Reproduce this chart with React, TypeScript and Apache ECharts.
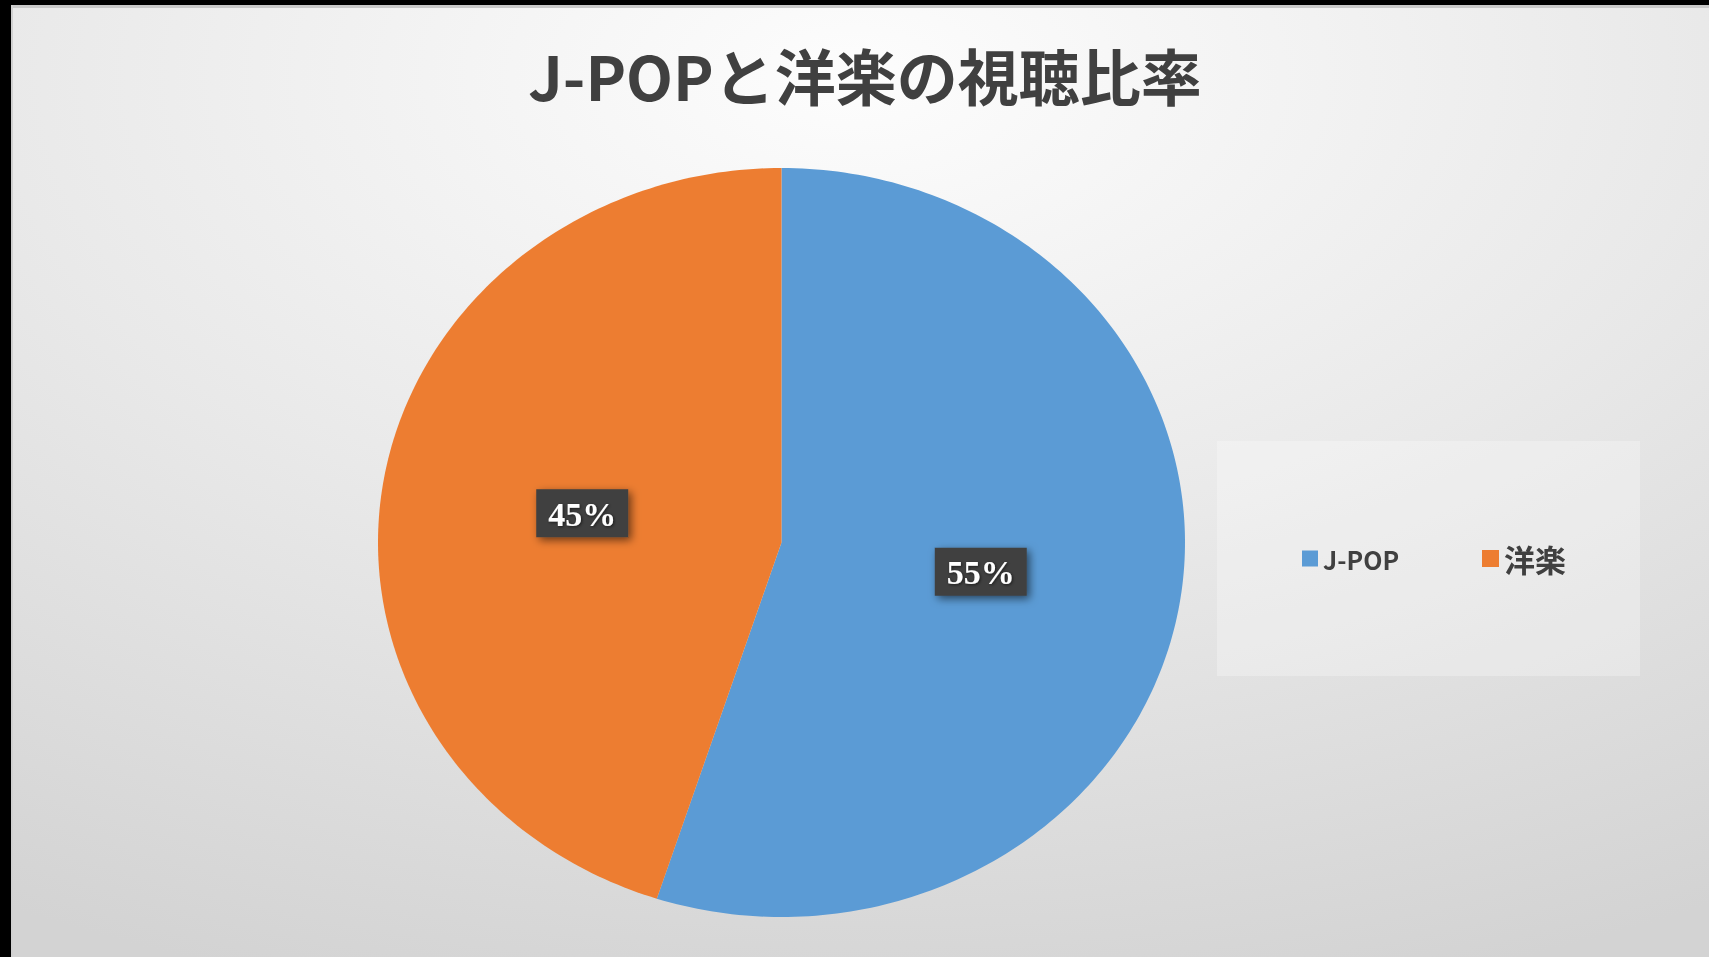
import React, { useEffect, useRef } from "react";
import * as echarts from "echarts";

const titleText = "J-POPと洋楽の視聴比率";
const categories = ["J-POP", "洋楽"];
const values = [55, 45];
const colors = ["#5B9BD5", "#ED7D31"];

// layout (not data)
const W = 1709;
const H = 957;
const CX = 781.5;
const CY = 542.5;
const RX = 403.5;
const RY = 374.5;
const LABEL_R = 0.5;

const total = values.reduce((a, b) => a + b, 0);

function makeRenderItem(idx: number) {
  return (params: any, api: any) => {
    const v = api.value(0);
    let before = 0;
    for (let k = 0; k < idx; k++) before += values[k];
    const a0 = (before / total) * Math.PI * 2;
    const a1 = ((before + v) / total) * Math.PI * 2;
    const steps = Math.max(8, Math.ceil(((a1 - a0) / (Math.PI * 2)) * 360));
    const pts: number[][] = [[CX, CY]];
    for (let s = 0; s <= steps; s++) {
      const t = a0 + ((a1 - a0) * s) / steps;
      pts.push([CX + RX * Math.sin(t), CY - RY * Math.cos(t)]);
    }
    const am = (a0 + a1) / 2;
    const lx = CX + RX * LABEL_R * Math.sin(am);
    const ly = CY - RY * LABEL_R * Math.cos(am);
    const pct = Math.round((v / total) * 100) + "%";
    return {
      type: "group",
      children: [
        {
          type: "polygon",
          shape: { points: pts },
          style: { fill: colors[idx] },
        },
        {
          type: "rect",
          shape: { x: lx - 46, y: ly - 24, width: 92, height: 48 },
          style: {
            fill: "#3f3f3f",
            shadowBlur: 8,
            shadowColor: "rgba(0,0,0,0.55)",
            shadowOffsetX: 3,
            shadowOffsetY: 3,
          },
        },
        {
          type: "text",
          style: {
            text: pct,
            x: lx,
            y: ly + 1,
            align: "center",
            verticalAlign: "middle",
            fill: "#ffffff",
            fontFamily: "'Liberation Serif', 'Times New Roman', serif",
            fontWeight: "bold",
            fontSize: 34,
            textShadowColor: "rgba(0,0,0,0.6)",
            textShadowBlur: 3,
            textShadowOffsetX: 1,
            textShadowOffsetY: 1,
          },
        },
      ],
    };
  };
}

export default function App() {
  const ref = useRef<HTMLDivElement>(null);
  useEffect(() => {
    if (!ref.current) return;
    const chart = echarts.init(ref.current, undefined, { renderer: "svg" });
    const font = "'Noto Sans CJK JP', 'Noto Sans', sans-serif";
    chart.setOption({
      animation: false,
      title: {
        text: titleText,
        left: 865,
        top: 44,
        padding: 0,
        textAlign: "center",
        textStyle: {
          color: "#404040",
          fontFamily: font,
          fontWeight: "bold",
          fontSize: 61,
        },
      },
      graphic: [
        {
          type: "rect",
          z: -10,
          silent: true,
          shape: { x: 0, y: 0, width: W, height: H },
          style: {
            fill: {
              type: "radial",
              x: 0.5,
              y: 0.08,
              r: 1,
              colorStops: [
                { offset: 0, color: "#fdfdfd" },
                { offset: 0.5, color: "#e9e9e9" },
                { offset: 1, color: "#d3d3d3" },
              ],
            },
          },
        },
        {
          type: "rect",
          z: -5,
          silent: true,
          shape: { x: 1217, y: 441, width: 423, height: 235 },
          style: { fill: "rgba(255,255,255,0.28)" },
        },
        {
          type: "rect",
          z: 50,
          silent: true,
          shape: { x: 0, y: 5, width: W, height: 3 },
          style: { fill: "#c9c9c9" },
        },
        {
          type: "rect",
          z: 50,
          silent: true,
          shape: { x: 11, y: 0, width: 2, height: H },
          style: { fill: "#d0d0d0" },
        },
        {
          type: "rect",
          z: 60,
          silent: true,
          shape: { x: 0, y: 0, width: W, height: 5 },
          style: { fill: "#000000" },
        },
        {
          type: "rect",
          z: 60,
          silent: true,
          shape: { x: 0, y: 0, width: 11, height: H },
          style: { fill: "#000000" },
        },
      ],
      legend: [
        {
          data: [categories[0]],
          left: 1302,
          top: 546,
          padding: 0,
          icon: "rect",
          itemWidth: 16,
          itemHeight: 16,
          selectedMode: false,
          textStyle: {
            color: "#404040",
            fontFamily: font,
            fontWeight: "bold",
            fontSize: 25,
          },
        },
        {
          data: [categories[1]],
          left: 1482,
          top: 543,
          padding: 0,
          icon: "rect",
          itemWidth: 17,
          itemHeight: 17,
          selectedMode: false,
          textStyle: {
            color: "#404040",
            fontFamily: font,
            fontWeight: "bold",
            fontSize: 31,
          },
        },
      ],
      series: categories.map((name, i) => ({
        type: "custom",
        name,
        coordinateSystem: "none",
        itemStyle: { color: colors[i] },
        renderItem: makeRenderItem(i),
        data: [[values[i]]],
        silent: true,
      })),
    });
    return () => chart.dispose();
  }, []);
  return (
    <div
      ref={ref}
      style={{ position: "fixed", left: 0, top: 0, width: W, height: H }}
    />
  );
}
